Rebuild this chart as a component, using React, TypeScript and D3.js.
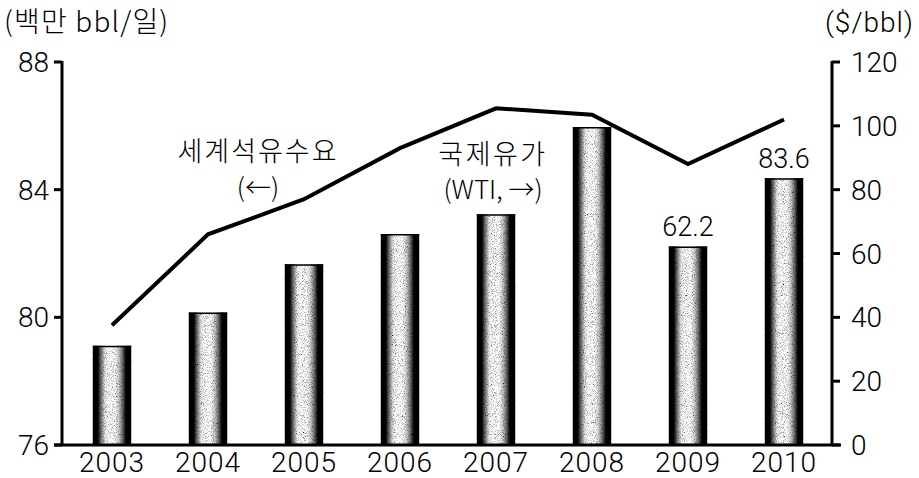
import React from "react";
import * as d3 from "d3";

const years = ["2003", "2004", "2005", "2006", "2007", "2008", "2009", "2010"];
const demand = [79.75, 82.6, 83.7, 85.3, 86.55, 86.35, 84.8, 86.2];
const wti = [31.1, 41.5, 56.6, 66.1, 72.3, 99.6, 62.2, 83.6];
const labeledYears = ["2009", "2010"];
const leftTicks = [76, 80, 84, 88];
const rightTicks = [0, 20, 40, 60, 80, 100, 120];

const W = 919;
const H = 478;
const axL = 62;
const axR = 832;
const top = 62;
const bottom = 445;

const numFont = "Roboto, 'Liberation Sans', Arial, sans-serif";
const krFont = "'Noto Sans CJK KR', 'Liberation Sans', sans-serif";

export default function App() {
  const x = d3
    .scaleBand<string>()
    .domain(years)
    .range([axL + 2, axR])
    .paddingInner(0.6)
    .paddingOuter(0.3);
  const yL = d3.scaleLinear().domain([76, 88]).range([bottom, top]);
  const yR = d3.scaleLinear().domain([0, 120]).range([bottom, top]);

  const line = d3
    .line<number>()
    .x((_, i) => (x(years[i]) as number) + x.bandwidth() / 2)
    .y((d) => yL(d));

  const bw = x.bandwidth();

  return (
    <div style={{ position: "absolute", left: 0, top: 0 }}>
      <svg width={W} height={H} style={{ display: "block", background: "#fff" }}>
        <defs>
          <linearGradient id="cyl" x1="0" x2="1" y1="0" y2="0">
            <stop offset="0" stopColor="#000" />
            <stop offset="0.13" stopColor="#000" />
            <stop offset="0.22" stopColor="#777" />
            <stop offset="0.32" stopColor="#ececec" />
            <stop offset="0.4" stopColor="#fff" />
            <stop offset="0.58" stopColor="#fff" />
            <stop offset="0.68" stopColor="#c8c8c8" />
            <stop offset="0.78" stopColor="#666" />
            <stop offset="0.86" stopColor="#000" />
            <stop offset="1" stopColor="#000" />
          </linearGradient>
          <filter id="grain" x="0" y="0" width="100%" height="100%">
            <feTurbulence type="fractalNoise" baseFrequency="1.1" numOctaves="2" seed="5" result="n" />
            <feColorMatrix
              in="n"
              type="matrix"
              values="0 0 0 0 0  0 0 0 0 0  0 0 0 0 0  0 0 0 -2.4 1.3"
              result="dots"
            />
            <feComposite in="dots" in2="SourceGraphic" operator="in" result="d2" />
            <feBlend in="SourceGraphic" in2="d2" mode="multiply" />
          </filter>
        </defs>

        {/* bars */}
        <g>
          {years.map((yr, i) => {
            const bx = x(yr) as number;
            const by = yR(wti[i]);
            return (
              <g key={yr}>
                <rect
                  x={bx}
                  y={by}
                  width={bw}
                  height={bottom - by}
                  fill="url(#cyl)"
                  filter="url(#grain)"
                />
                <line x1={bx} x2={bx + bw} y1={by + 0.75} y2={by + 0.75} stroke="#000" strokeWidth={1.5} />
              </g>
            );
          })}
        </g>

        {/* value labels */}
        {years.map((yr, i) =>
          labeledYears.includes(yr) ? (
            <text
              key={"v" + yr}
              x={(x(yr) as number) + bw / 2}
              y={yR(wti[i]) - 10}
              textAnchor="middle"
              fontFamily={numFont}
              fontWeight={300}
              fontSize={27}
              fill="#000"
            >
              {wti[i].toFixed(1)}
            </text>
          ) : null
        )}

        {/* demand line */}
        <path d={line(demand) || ""} fill="none" stroke="#000" strokeWidth={4} strokeLinejoin="miter" />

        {/* axes */}
        <line x1={axL} x2={axL} y1={top - 1} y2={bottom} stroke="#000" strokeWidth={3} />
        <line x1={axR} x2={axR} y1={top - 1} y2={bottom} stroke="#000" strokeWidth={3} />
        <line x1={axL - 8} x2={axR + 9} y1={bottom} y2={bottom} stroke="#000" strokeWidth={3} />

        {leftTicks.map((t) => (
          <g key={"l" + t}>
            <line x1={axL - 8} x2={axL} y1={yL(t)} y2={yL(t)} stroke="#000" strokeWidth={3} />
            <text
              x={axL - 13}
              y={yL(t)}
              dy="0.36em"
              textAnchor="end"
              fontFamily={numFont}
              fontWeight={300}
              fontSize={28}
              fill="#000"
            >
              {t}
            </text>
          </g>
        ))}
        {rightTicks.map((t) => (
          <g key={"r" + t}>
            <line x1={axR} x2={axR + 8} y1={yR(t)} y2={yR(t)} stroke="#000" strokeWidth={3} />
            <text
              x={axR + 19}
              y={yR(t)}
              dy="0.36em"
              textAnchor="start"
              fontFamily={numFont}
              fontWeight={300}
              fontSize={28}
              fill="#000"
            >
              {t}
            </text>
          </g>
        ))}

        {years.map((yr) => (
          <text
            key={"x" + yr}
            x={(x(yr) as number) + bw / 2}
            y={472}
            textAnchor="middle"
            fontFamily={numFont}
            fontWeight={300}
            fontSize={28}
            letterSpacing={1}
            fill="#000"
          >
            {yr}
          </text>
        ))}

        {/* axis titles */}
        <text x={4} y={32} fontFamily={krFont} fontWeight={300} fontSize={28} letterSpacing={1.2} fill="#000">
          (백만 bbl/일)
        </text>
        <text x={914} y={32} textAnchor="end" fontFamily={numFont} fontWeight={300} fontSize={28} letterSpacing={1} fill="#000">
          ($/bbl)
        </text>

        {/* annotations */}
        <text x={258} y={161} textAnchor="middle" fontFamily={krFont} fontWeight={300} fontSize={27} letterSpacing={2} fill="#000">
          세계석유수요
        </text>
        <text x={258} y={197} textAnchor="middle" fontFamily={krFont} fontWeight={300} fontSize={26} fill="#000">
          (←)
        </text>
        <text x={493} y={164} textAnchor="middle" fontFamily={krFont} fontWeight={300} fontSize={27} letterSpacing={2.5} fill="#000">
          국제유가
        </text>
        <text x={493} y={199} textAnchor="middle" fontFamily={krFont} fontWeight={300} fontSize={26} fill="#000">
          (WTI, →)
        </text>
      </svg>
    </div>
  );
}
